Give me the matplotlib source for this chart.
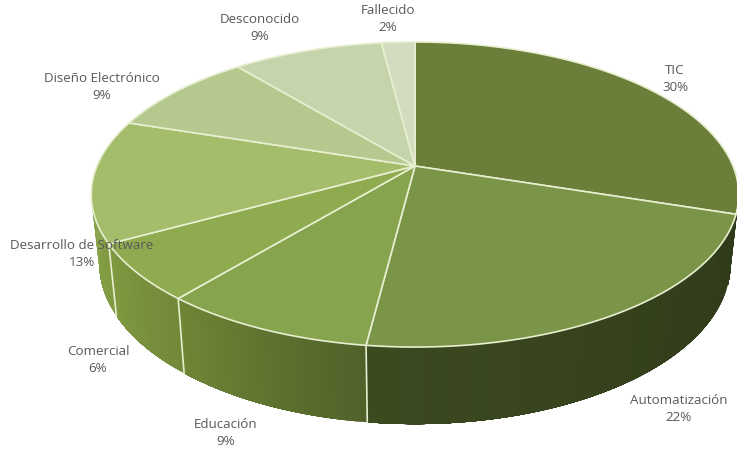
import numpy as np
import matplotlib
matplotlib.use("Agg")
import matplotlib.pyplot as plt
from matplotlib.colors import to_rgb
from matplotlib.patches import Polygon

plt.rcParams['font.family'] = ['Open Sans', 'DejaVu Sans']

# Shares per area, clockwise from twelve o'clock
categories = ["TIC", "Automatización", "Educación", "Comercial",
              "Desarrollo de Software", "Diseño Electrónico", "Desconocido", "Fallecido"]
shares = [30, 22, 9, 6, 13, 9, 9, 2]
value_labels = ["30%", "22%", "9%", "6%", "13%", "9%", "9%", "2%"]

top_colors = ["#6b7f3a", "#7a9448", "#86a34d", "#8fab50", "#a3bd6b", "#b5c98f", "#c6d4ab", "#d3dcc0"]
# Side wall colours at the start and end of each slice
side_colors = [("#2f3a1a", "#2f3a1a"), ("#2f3a1a", "#3c4a20"), ("#50622a", "#6f8636"),
               ("#73893a", "#7f9a40"), ("#7f9a40", "#8aa650"), ("#8aa650", "#8aa650"),
               ("#8aa650", "#8aa650"), ("#8aa650", "#8aa650")]
label_pos = [(675, 79), (679, 409), (226, 433), (98, 360),
             (82, 254), (102, 87), (260, 28), (388, 19)]
edge = "#e8efd0"

# Perspective projection of the pie disc onto the page (pixel units)
cx, cy = 415, 167
a, b, k = 318, 147.2, 0.187
depth_y, bottom_xscale, bottom_yscale = 68, 0.975, 1.05


def project(theta, bottom=False):
    x, y = np.sin(theta), np.cos(theta)
    w = 1 + k * y
    px, py = a * x / w, b * (-y) / w
    if bottom:
        return cx + px * bottom_xscale, cy + depth_y + py * bottom_yscale
    return cx + px, cy + py


fig = plt.figure(figsize=(7.37, 4.56), dpi=100)
ax = fig.add_axes([0, 0, 1, 1])
ax.set_xlim(0, 737)
ax.set_ylim(456, 0)
ax.axis("off")

edges = np.radians(np.cumsum([0] + shares) * 3.6)
wall_from, wall_to = np.radians(92), np.radians(268)

# Side wall, drawn as overlapping shaded strips so no seams show
for i in range(len(shares)):
    start = max(edges[i], wall_from)
    stop = min(edges[i + 1], wall_to)
    if stop <= start:
        continue
    c0, c1 = np.array(to_rgb(side_colors[i][0])), np.array(to_rgb(side_colors[i][1]))
    steps = np.linspace(start, stop, 40)
    for j in range(len(steps) - 1):
        t = j / (len(steps) - 2)
        span = np.linspace(steps[j], stop, 30)
        xs, ys = project(span)
        xb, yb = project(span, True)
        col = c0 + (c1 - c0) * t
        pts = list(zip(xs, ys)) + list(zip(xb[::-1], yb[::-1]))
        ax.add_patch(Polygon(pts, closed=True, fc=col, ec="none", zorder=1))
    # pale seam between neighbouring walls
    if edges[i] >= wall_from and i > 1:
        xs0, ys0 = project(edges[i])
        xb0, yb0 = project(edges[i], True)
        ax.plot([xs0, xb0], [ys0, yb0], color=edge, lw=1.2, zorder=2)

# Top faces
for i in range(len(shares)):
    angles = np.linspace(edges[i], edges[i + 1], 120)
    px, py = project(angles)
    pts = [(cx, cy)] + list(zip(px, py))
    ax.add_patch(Polygon(pts, closed=True, fc=top_colors[i], ec=edge, lw=1.2, zorder=3))

# Labels
for name, val, (lx, ly) in zip(categories, value_labels, label_pos):
    ax.text(lx, ly, name + "\n" + val, ha="center", va="center", fontsize=9.6,
            color="#595959", linespacing=1.4, zorder=5)

fig.savefig("out.png", dpi=100)
